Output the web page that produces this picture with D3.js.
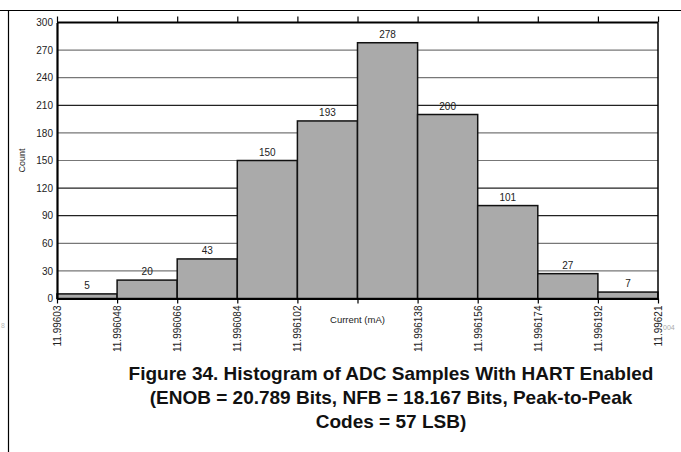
<!DOCTYPE html>
<html>
<head>
<meta charset="utf-8">
<script src="https://cdn.jsdelivr.net/npm/d3@7"></script>
<style>
  body { margin: 0; background: #fff; }
  svg { display: block; font-family: "Liberation Sans", Arial, sans-serif; }
</style>
</head>
<body>
<div class="chart"></div>
<script>
// histogram data - counts per bin
const counts = [5, 20, 43, 150, 193, 278, 200, 101, 27, 7];

// bin edge labels (one edge left unlabeled, axis title sits there)
const edgeLabels = ["11.99603", "11.996048", "11.996066", "11.996084", "11.996102",
                    "", "11.996138", "11.996156", "11.996174", "11.996192", "11.99621"];

const yTicks = [0, 30, 60, 90, 120, 150, 180, 210, 240, 270, 300];

const captionLines = [
  "Figure 34. Histogram of ADC Samples With HART Enabled",
  "(ENOB = 20.789 Bits, NFB = 18.167 Bits, Peak-to-Peak",
  "Codes = 57 LSB)"
];

const width = 681, height = 452;
const plotLeft = 57, plotRight = 658, plotTop = 22.5, plotBottom = 298.5;

const svg = d3.select(".chart").append("svg")
  .attr("width", width)
  .attr("height", height);

// page frame lines
svg.append("line").attr("x1", 0).attr("x2", width).attr("y1", 10.5).attr("y2", 10.5)
  .attr("stroke", "#000").attr("stroke-width", 1.2);
svg.append("line").attr("x1", 8.5).attr("x2", 8.5).attr("y1", 10).attr("y2", height)
  .attr("stroke", "#000").attr("stroke-width", 1.2);

// scales
const x = d3.scaleLinear().domain([0, counts.length]).range([plotLeft, plotRight]);
const y = d3.scaleLinear().domain([0, 300]).range([plotBottom, plotTop]);

// gridlines
svg.append("g")
  .selectAll("line")
  .data(yTicks.slice(1, -1))
  .enter().append("line")
    .attr("x1", plotLeft).attr("x2", plotRight)
    .attr("y1", d => y(d)).attr("y2", d => y(d))
    .attr("stroke", d => (d === 210 || d === 120 || d === 90) ? "#222" : "#777")
    .attr("stroke-width", 1.2);

// bars
svg.append("g")
  .selectAll("rect")
  .data(counts)
  .enter().append("rect")
    .attr("x", (d, i) => x(i))
    .attr("y", d => y(d))
    .attr("width", (d, i) => x(i + 1) - x(i))
    .attr("height", d => y(0) - y(d))
    .attr("fill", "#aaaaaa")
    .attr("stroke", "#111")
    .attr("stroke-width", 1.5);

// bar value labels
svg.append("g")
  .selectAll("text")
  .data(counts)
  .enter().append("text")
    .attr("x", (d, i) => (x(i) + x(i + 1)) / 2)
    .attr("y", d => y(d) - 5)
    .attr("text-anchor", "middle")
    .attr("font-size", 10)
    .attr("fill", "#222")
    .text(d => d);

// frame: top + right edges
svg.append("line").attr("x1", plotLeft).attr("x2", plotRight).attr("y1", y(300)).attr("y2", y(300))
  .attr("stroke", "#000").attr("stroke-width", 2);
svg.append("line").attr("x1", plotRight).attr("x2", plotRight).attr("y1", y(300)).attr("y2", y(0))
  .attr("stroke", "#000").attr("stroke-width", 1.5);

// y axis
const yAxis = svg.append("g")
  .attr("transform", `translate(${plotLeft},0)`)
  .call(d3.axisLeft(y).tickValues(yTicks).tickSize(0).tickPadding(4));
yAxis.select(".domain").attr("stroke", "#000").attr("stroke-width", 2.2);
yAxis.selectAll("text").attr("font-size", 10).attr("fill", "#222")
  .attr("font-family", "Liberation Sans, Arial, sans-serif");

// x axis bottom
const xAxis = svg.append("g")
  .attr("transform", `translate(0,${plotBottom})`)
  .call(d3.axisBottom(x).tickValues(d3.range(counts.length + 1))
    .tickSize(5).tickSizeOuter(0).tickFormat(i => edgeLabels[i]));
xAxis.select(".domain").attr("stroke", "#000").attr("stroke-width", 2.2);
xAxis.selectAll("line").attr("stroke", "#000").attr("stroke-width", 1.2);
xAxis.selectAll("text")
  .attr("font-size", 10)
  .attr("fill", "#222")
  .attr("font-family", "Liberation Sans, Arial, sans-serif")
  .attr("text-anchor", "end")
  .attr("dy", "0.35em")
  .attr("transform", "translate(0,7) rotate(-90)")
  .attr("x", 0).attr("y", 0);

// top ticks
const topAxis = svg.append("g")
  .attr("transform", `translate(0,${plotTop})`)
  .call(d3.axisTop(x).tickValues(d3.range(counts.length + 1)).tickSize(6).tickSizeOuter(0).tickFormat(""));
topAxis.select(".domain").remove();
topAxis.selectAll("line").attr("stroke", "#000").attr("stroke-width", 1.2);

// axis titles
svg.append("text")
  .attr("transform", `translate(25,${(plotTop + plotBottom) / 2}) rotate(-90)`)
  .attr("text-anchor", "middle")
  .attr("font-size", 9)
  .attr("fill", "#222")
  .text("Count");

svg.append("text")
  .attr("x", x(5))
  .attr("y", 323)
  .attr("text-anchor", "middle")
  .attr("font-size", 9.5)
  .attr("fill", "#222")
  .text("Current (mA)");

// faint doc artifacts
svg.append("text").attr("x", 663).attr("y", 330).attr("font-size", 7)
  .attr("fill", "#aaa").text("004");
svg.append("text").attr("x", 1).attr("y", 328).attr("font-size", 7)
  .attr("fill", "#bbb").text("8");

// caption
svg.append("g")
  .selectAll("text")
  .data(captionLines)
  .enter().append("text")
    .attr("x", 391)
    .attr("y", (d, i) => 380 + i * 24)
    .attr("text-anchor", "middle")
    .attr("font-size", 19)
    .attr("font-weight", "bold")
    .attr("fill", "#111")
    .text(d => d);
</script>
</body>
</html>
